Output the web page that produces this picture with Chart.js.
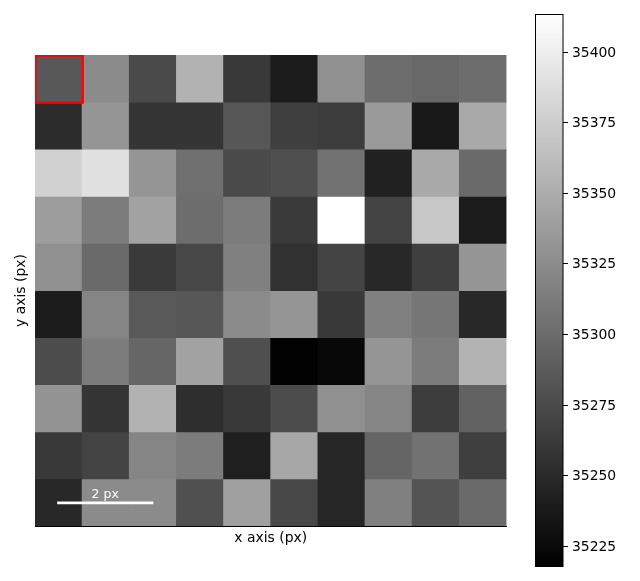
<!DOCTYPE html>
<html><head><meta charset="utf-8">
<script src="https://cdn.jsdelivr.net/npm/chart.js@4/dist/chart.umd.js"></script>
<style>
html,body{margin:0;padding:0;background:#fff;width:640px;height:581px;overflow:hidden}
canvas{position:absolute;left:0;top:0}
#wrap1{position:absolute;left:0;top:0;width:525px;height:581px}
#wrap2{position:absolute;left:525px;top:0;width:115px;height:581px}
</style></head><body>
<div id="wrap1"><canvas id="map"></canvas></div>
<div id="wrap2"><canvas id="bar"></canvas></div>
<script>
const row0=[35285,35324,35274,35354,35261,35239,35328,35301,35297,35301];
const row1=[35251,35332,35258,35258,35284,35266,35264,35336,35237,35347];
const row2=[35378,35390,35332,35303,35274,35278,35305,35243,35347,35299];
const row3=[35338,35313,35342,35301,35313,35262,35413,35270,35370,35238];
const row4=[35328,35299,35262,35272,35316,35255,35270,35248,35266,35332];
const row5=[35239,35320,35286,35284,35324,35332,35261,35316,35309,35248];
const row6=[35276,35313,35296,35343,35278,35218,35224,35332,35313,35355];
const row7=[35330,35258,35354,35253,35261,35276,35328,35320,35264,35293];
const row8=[35261,35269,35320,35313,35241,35346,35247,35295,35305,35266];
const row9=[35248,35324,35324,35279,35340,35272,35247,35316,35282,35299];
const rows=[row0,row1,row2,row3,row4,row5,row6,row7,row8,row9];
const columnCenters=[0.5,1.5,2.5,3.5,4.5,5.5,6.5,7.5,8.5,9.5];
const colorbarTicks=[35225,35250,35275,35300,35325,35350,35375,35400];
const valueMin=35217.6, valueMax=35413.2;
const xTitle='x axis (px)', yTitle='y axis (px)', barLabel='2 px';
const font='"DejaVu Sans"';
const fontSize=13.9;

function gray(v){
  const g=Math.round(Math.max(0,Math.min(1,(v-valueMin)/(valueMax-valueMin)))*255);
  return `rgb(${g},${g},${g})`;
}

const overlay={
  id:'overlay',
  afterDatasetsDraw(c){
    const {ctx,scales:{x,y},chartArea:a}=c;
    ctx.save();
    ctx.beginPath();ctx.rect(a.left,a.top,a.width,a.height);ctx.clip();
    ctx.strokeStyle='#ff0000';ctx.lineWidth=2.5;
    const x0=x.getPixelForValue(0.01),x1=x.getPixelForValue(1.01);
    const y0=y.getPixelForValue(0.01),y1=y.getPixelForValue(1.01);
    ctx.strokeRect(x0,y0,x1-x0,y1-y0);
    ctx.restore();
    ctx.save();
    ctx.strokeStyle='#ffffff';ctx.lineWidth=2.6;
    const sy=y.getPixelForValue(9.51);
    const s0=x.getPixelForValue(0.47),s1=x.getPixelForValue(2.51);
    ctx.beginPath();ctx.moveTo(s0,sy);ctx.lineTo(s1,sy);ctx.stroke();
    ctx.fillStyle='#ffffff';ctx.font=`${fontSize*0.9}px ${font}`;
    ctx.textAlign='center';ctx.textBaseline='alphabetic';
    ctx.fillText(barLabel,(s0+s1)/2,sy-5);
    ctx.restore();
  }
};

new Chart(document.getElementById('map'),{
  type:'bar',
  data:{datasets:rows.map(r=>({
    data:columnCenters.map(c=>({x:c,y:1})),
    backgroundColor:r.map(gray),
    borderColor:r.map(gray),
    borderWidth:0,
    barPercentage:1,categoryPercentage:1,
    inflateAmount:0.4
  }))},
  plugins:[overlay],
  options:{
    responsive:true,maintainAspectRatio:false,animation:false,
    devicePixelRatio:1,
    layout:{padding:{top:55,left:0,right:18.5,bottom:0}},
    plugins:{legend:{display:false},tooltip:{enabled:false}},
    scales:{
      x:{type:'linear',min:0,max:10,stacked:true,offset:false,
        grid:{display:false,drawTicks:false},
        border:{display:true,color:'#000',width:1},
        ticks:{display:false},
        title:{display:true,text:xTitle,color:'#000',font:{family:font,size:fontSize},padding:{top:0,bottom:34}},
        afterFit(s){s.height=55;}},
      y:{type:'linear',min:0,max:10,reverse:true,stacked:true,offset:false,
        grid:{display:false,drawTicks:false},
        border:{display:false},
        ticks:{display:false},
        title:{display:true,text:yTitle,color:'#000',font:{family:font,size:fontSize},padding:{top:13,bottom:0}},
        afterFit(s){s.width=35;}}
    }
  }
});

new Chart(document.getElementById('bar'),{
  type:'bar',
  data:{labels:['colorbar'],datasets:[{
    data:[[valueMin,valueMax]],
    barPercentage:1,categoryPercentage:1,borderWidth:0,
    backgroundColor(ctx){
      const c=ctx.chart;
      if(!c.chartArea) return '#888';
      const y=c.scales.y;
      const g=c.ctx.createLinearGradient(0,y.getPixelForValue(valueMin),0,y.getPixelForValue(valueMax));
      g.addColorStop(0,gray(valueMin));g.addColorStop(1,gray(valueMax));
      return g;
    }
  }]},
  plugins:[{id:'frame',afterDatasetsDraw(c){
    const a=c.chartArea,ctx=c.ctx,y=c.scales.y;
    ctx.save();ctx.strokeStyle='#000';ctx.lineWidth=1;
    ctx.strokeRect(a.left,a.top,a.width,a.height);
    ctx.fillStyle='#000';ctx.font=`${fontSize}px ${font}`;
    ctx.textAlign='left';ctx.textBaseline='alphabetic';
    colorbarTicks.forEach(v=>{
      const p=Math.round(y.getPixelForValue(v))+0.5;
      ctx.beginPath();ctx.moveTo(a.right,p);ctx.lineTo(a.right+5,p);ctx.stroke();
      ctx.fillText(String(v),a.right+9,p+4.5);
    });
    ctx.restore();
  }}],
  options:{
    responsive:true,maintainAspectRatio:false,animation:false,
    devicePixelRatio:1,
    layout:{padding:{top:14.5,bottom:14.5,left:10.5,right:0}},
    plugins:{legend:{display:false},tooltip:{enabled:false}},
    scales:{
      x:{grid:{display:false,drawTicks:false},border:{display:false},ticks:{display:false},afterFit(s){s.height=0;}},
      y:{position:'right',min:valueMin,max:valueMax,
        afterBuildTicks(s){s.ticks=colorbarTicks.map(v=>({value:v}));},
        grid:{display:false},
        border:{display:false},
        ticks:{display:false},
        afterFit(s){s.width=77;}}
    }
  }
});
</script>
</body></html>
